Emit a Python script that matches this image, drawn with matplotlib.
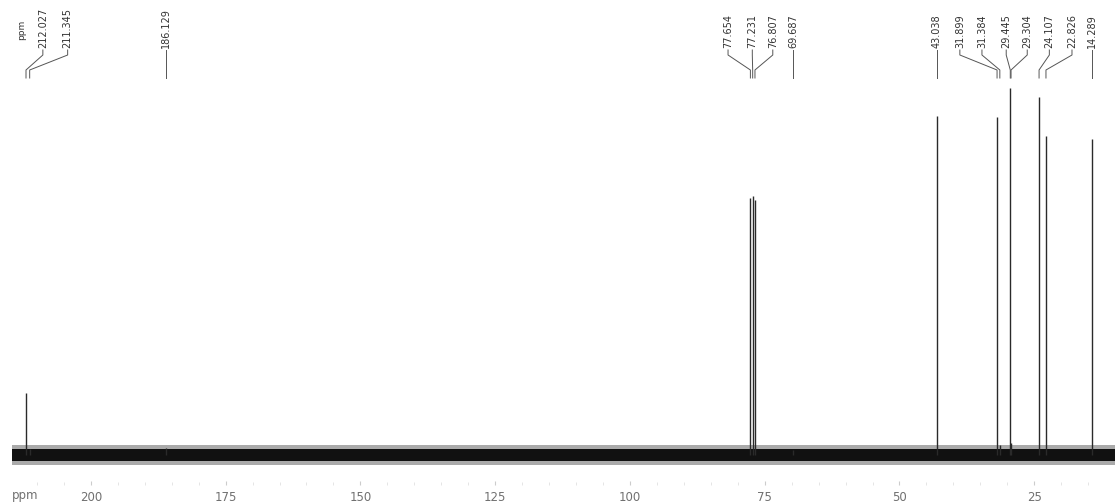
import matplotlib
matplotlib.use('Agg')
from matplotlib import pyplot as plt

# peak list (ppm) and peak heights
shifts = [212.027, 211.345, 186.129, 77.654, 77.231, 76.807, 69.687,
          43.038, 31.899, 31.384, 29.445, 29.304, 24.107, 22.826, 14.289]
heights = [62, 6, 7, 257, 259, 255, 5, 339, 338, 10, 367, 12, 358, 319, 316]
peak_labels = ['212.027', '211.345', '186.129', '77.654', '77.231', '76.807', '69.687',
               '43.038', '31.899', '31.384', '29.445', '29.304', '24.107', '22.826', '14.289']
axis_ticks = [200, 175, 150, 125, 100, 75, 50, 25]

# where the rotated labels sit (ppm), spread so they don't overlap
label_x = [208.9, 204.3, 186.129, 81.8, 77.3, 73.5, 69.687,
           43.038, 38.8, 34.7, 30.2, 26.3, 22.2, 18.0, 14.289]

fig = plt.figure(figsize=(11.15, 5.04), dpi=100)
ax = fig.add_axes([0, 19 / 504, 1, 485 / 504])
ax.set_xlim(216.85, 10.02)
ax.set_ylim(-30, 455)

# noisy baseline, drawn as a dark band
ax.fill_between([214.6, 10.02], -10, 10, color='#444444', alpha=0.45, lw=0)
ax.fill_between([214.6, 10.02], -6, 6, color='#111111', lw=0)

# peaks
ax.vlines(shifts, 0, heights, color='#2a2a2a', lw=1.0)

# peak labels with leader lines
for s, lx, lab in zip(shifts, label_x, peak_labels):
    ax.plot([lx, lx, s, s], [405, 400, 385, 377], color='#555555', lw=0.7,
            clip_on=False)
    ax.text(lx, 407, lab, rotation=90, ha='center', va='bottom', fontsize=7,
            family=['Liberation Sans Narrow', 'DejaVu Sans'], color='#333333')
ax.text(212.9, 415, 'ppm', rotation=90, ha='center', va='bottom', fontsize=6.5,
        family=['Liberation Sans Narrow', 'DejaVu Sans'], color='#333333')

# axis
ax.set_xticks(axis_ticks)
ax.set_xticklabels([str(t) for t in axis_ticks])
ax.set_xticks(range(15, 215, 5), minor=True)
ax.tick_params(axis='x', which='major', direction='in', length=3, color='#cccccc',
               pad=4, labelsize=8.5, labelcolor='#707070')
ax.tick_params(axis='x', which='minor', direction='in', length=2, color='#e0e0e0')
ax.text(212.2, -40, 'ppm', ha='center', va='center', fontsize=8.5, color='#707070')
ax.set_yticks([])
for side in ['top', 'bottom', 'left', 'right']:
    ax.spines[side].set_visible(False)

plt.savefig('out.png', dpi=100)
